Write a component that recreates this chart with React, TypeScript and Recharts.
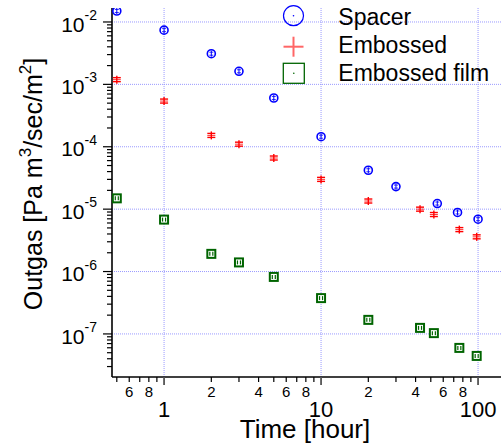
import React from 'react';
import { ScatterChart, Scatter, XAxis, YAxis, ReferenceLine } from 'recharts';

// ---- data ----
const spacerTime = [0.5, 1, 2, 3, 5, 10, 20, 30, 55, 74, 100];
const spacerOutgas = [1.5e-2, 7.4e-3, 3.1e-3, 1.62e-3, 6.05e-4, 1.45e-4, 4.2e-5, 2.3e-5, 1.23e-5, 8.85e-6, 6.9e-6];

const embossedTime = [0.5, 1, 2, 3, 5, 10, 20, 42.7, 52.3, 76, 98];
const embossedOutgas = [1.19e-3, 5.4e-4, 1.52e-4, 1.1e-4, 6.6e-5, 3.0e-5, 1.35e-5, 1.0e-5, 8.2e-6, 4.7e-6, 3.6e-6];

const filmTime = [0.5, 1, 2, 3, 5, 10, 20, 42.7, 52.3, 76, 98];
const filmOutgas = [1.49e-5, 6.8e-6, 1.92e-6, 1.4e-6, 8.2e-7, 3.75e-7, 1.68e-7, 1.25e-7, 1.03e-7, 5.97e-8, 4.44e-8];

const seriesNames = ['Spacer', 'Embossed', 'Embossed film'];

const xTicks = [0.5, 0.6, 0.7, 0.8, 0.9, 1, 2, 3, 4, 5, 6, 7, 8, 9, 10, 20, 30, 40, 50, 60, 70, 80, 90, 100];
const xTickLabels = ['', '6', '', '8', '', '1', '2', '', '4', '', '6', '', '8', '', '10', '2', '', '4', '', '6', '', '8', '', '100'];
const xMajor = [1, 10, 100];

const yTicks = [
  3e-8, 4e-8, 5e-8, 6e-8, 7e-8, 8e-8, 9e-8,
  1e-7, 2e-7, 3e-7, 4e-7, 5e-7, 6e-7, 7e-7, 8e-7, 9e-7,
  1e-6, 2e-6, 3e-6, 4e-6, 5e-6, 6e-6, 7e-6, 8e-6, 9e-6,
  1e-5, 2e-5, 3e-5, 4e-5, 5e-5, 6e-5, 7e-5, 8e-5, 9e-5,
  1e-4, 2e-4, 3e-4, 4e-4, 5e-4, 6e-4, 7e-4, 8e-4, 9e-4,
  1e-3, 2e-3, 3e-3, 4e-3, 5e-3, 6e-3, 7e-3, 8e-3, 9e-3,
  1e-2,
];
const yMajor = [1e-7, 1e-6, 1e-5, 1e-4, 1e-3, 1e-2];
const yExponents = ['-7', '-6', '-5', '-4', '-3', '-2'];

const xDomain = [0.466, 140];
const yDomain = [2.04e-8, 1.675e-2];

const toPoints = (xs: number[], ys: number[]) => xs.map((x, i) => ({ x, y: ys[i] }));
const spacerData = toPoints(spacerTime, spacerOutgas);
const embossedData = toPoints(embossedTime, embossedOutgas);
const filmData = toPoints(filmTime, filmOutgas);

const FONT = '"Liberation Sans", Arial, Helvetica, sans-serif';
const BLUE = '#0000ff';
const RED = '#ff0000';
const GREEN = '#006400';
const GRID = '#9a9aff';

// ---- marker shapes ----
const SpacerShape = (p: any) => {
  const { cx, cy } = p;
  if (cx == null || cy == null) return <g />;
  return (
    <g>
      <circle cx={cx} cy={cy} r={4} fill="none" stroke={BLUE} strokeWidth={1.6} />
      <line x1={cx} y1={cy - 3} x2={cx} y2={cy + 3} stroke={BLUE} strokeWidth={1} />
      <line x1={cx - 2} y1={cy - 1.5} x2={cx + 2} y2={cy - 1.5} stroke={BLUE} strokeWidth={0.8} />
      <line x1={cx - 2} y1={cy + 1.5} x2={cx + 2} y2={cy + 1.5} stroke={BLUE} strokeWidth={0.8} />
    </g>
  );
};

const EmbossedShape = (p: any) => {
  const { cx, cy } = p;
  if (cx == null || cy == null) return <g />;
  return (
    <g stroke={RED} strokeWidth={1.4}>
      <line x1={cx} y1={cy - 4} x2={cx} y2={cy + 4} />
      <line x1={cx - 4} y1={cy - 2} x2={cx + 4} y2={cy - 2} />
      <line x1={cx - 4} y1={cy + 2} x2={cx + 4} y2={cy + 2} />
      <line x1={cx - 4} y1={cy} x2={cx + 4} y2={cy} strokeWidth={0.8} />
    </g>
  );
};

const FilmShape = (p: any) => {
  const { cx, cy } = p;
  if (cx == null || cy == null) return <g />;
  return (
    <g>
      <rect x={cx - 4} y={cy - 4} width={8} height={8} fill="#fff" stroke={GREEN} strokeWidth={2} />
      <line x1={cx - 1.5} y1={cy - 2} x2={cx - 1.5} y2={cy + 2} stroke={GREEN} strokeWidth={1.2} />
      <line x1={cx + 1.5} y1={cy - 2} x2={cx + 1.5} y2={cy + 2} stroke={GREEN} strokeWidth={1.2} />
    </g>
  );
};

// ---- ticks ----
const XTick = (props: any) => {
  const { x, y, payload } = props;
  const v = payload.value;
  const i = xTicks.indexOf(v);
  const major = xMajor.indexOf(v) >= 0;
  const label = i >= 0 ? xTickLabels[i] : '';
  return (
    <g>
      <line x1={x} y1={y} x2={x} y2={y + (major ? 8 : 5)} stroke={major ? '#555' : '#000'} strokeWidth={major ? 1.8 : 1.2} />
      {label ? (
        <text x={x} y={y + (major ? 40 : 20)} textAnchor="middle" fontSize={major ? 22 : 15} fontFamily={FONT} fill="#000">
          {label}
        </text>
      ) : null}
    </g>
  );
};

const YTick = (props: any) => {
  const { x, y, payload } = props;
  const v = payload.value;
  const k = yMajor.indexOf(v);
  const major = k >= 0;
  return (
    <g>
      <line x1={x - (major ? 9 : 5)} y1={y} x2={x} y2={y} stroke="#000" strokeWidth={1.2} />
      {major ? (
        <text x={x - 15} y={y + 9.7} textAnchor="end" fontFamily={FONT} fill="#000" fontSize={21}>
          <tspan>10</tspan>
          <tspan dy={-11.7} fontSize={14}>{yExponents[k]}</tspan>
        </text>
      ) : null}
    </g>
  );
};

// ---- legend ----
const LegendBox = () => (
  <svg width={221} height={90} style={{ position: 'absolute', left: 280, top: 0, overflow: 'visible' }}>
    <g>
      <circle cx={13.5} cy={15.7} r={10} fill="none" stroke={BLUE} strokeWidth={1.2} />
      <circle cx={13.5} cy={15.7} r={0.8} fill={BLUE} />
      <text x={58.3} y={24.9} fontSize={23} fontFamily={FONT} fill="#000">{seriesNames[0]}</text>
    </g>
    <g>
      <line x1={3.5} y1={46.7} x2={23.5} y2={46.7} stroke="#ff6666" strokeWidth={2} />
      <line x1={13.5} y1={36.7} x2={13.5} y2={56.7} stroke="#ff6666" strokeWidth={2} />
      <text x={58.3} y={53.2} fontSize={23} fontFamily={FONT} fill="#000">{seriesNames[1]}</text>
    </g>
    <g>
      <rect x={3.3} y={63.3} width={21} height={20} fill="none" stroke={GREEN} strokeWidth={1.3} />
      <circle cx={13.8} cy={73.3} r={0.8} fill={GREEN} />
      <text x={58.3} y={80.7} fontSize={23} fontFamily={FONT} fill="#000">{seriesNames[2]}</text>
    </g>
  </svg>
);

export default function App() {
  return (
    <div style={{ position: 'absolute', left: 0, top: 0, width: 501, height: 443, background: '#fff' }}>
      <ScatterChart width={501} height={443} margin={{ top: 8, right: 0, bottom: 0, left: 0 }}>
        <XAxis
          type="number"
          dataKey="x"
          scale="log"
          domain={xDomain}
          allowDataOverflow
          ticks={xTicks}
          interval={0}
          tick={XTick}
          tickLine={false}
          tickSize={0}
          tickMargin={0}
          height={66}
          axisLine={{ stroke: '#000', strokeWidth: 1.6 }}
        />
        <YAxis
          type="number"
          dataKey="y"
          scale="log"
          domain={yDomain}
          allowDataOverflow
          ticks={yTicks}
          interval={0}
          tick={YTick}
          tickLine={false}
          tickSize={0}
          tickMargin={0}
          width={112}
          axisLine={{ stroke: '#000', strokeWidth: 1.6 }}
        />
        {xMajor.map((v) => (
          <ReferenceLine key={'vx' + v} x={v} stroke={GRID} strokeWidth={1} strokeDasharray="1 1" />
        ))}
        {yMajor.map((v) => (
          <ReferenceLine key={'hy' + v} y={v} stroke={GRID} strokeWidth={1} strokeDasharray="1 1" />
        ))}
        <Scatter name={seriesNames[0]} data={spacerData} shape={SpacerShape} isAnimationActive={false} />
        <Scatter name={seriesNames[1]} data={embossedData} shape={EmbossedShape} isAnimationActive={false} />
        <Scatter name={seriesNames[2]} data={filmData} shape={FilmShape} isAnimationActive={false} />
      </ScatterChart>
      <LegendBox />
      <svg width={501} height={443} style={{ position: 'absolute', left: 0, top: 0, pointerEvents: 'none' }}>
        <text
          x={42}
          y={184}
          transform="rotate(-90 42 184)"
          textAnchor="middle"
          fontSize={25}
          fontFamily={FONT}
          fill="#000"
        >
          Outgas [Pa m<tspan dy={-11} fontSize={17}>3</tspan>
          <tspan dy={11}>/sec/m</tspan>
          <tspan dy={-11} fontSize={17}>2</tspan>
          <tspan dy={11}>]</tspan>
        </text>
        <text x={305} y={438} textAnchor="middle" fontSize={26} fontFamily={FONT} fill="#000">
          Time [hour]
        </text>
      </svg>
    </div>
  );
}
